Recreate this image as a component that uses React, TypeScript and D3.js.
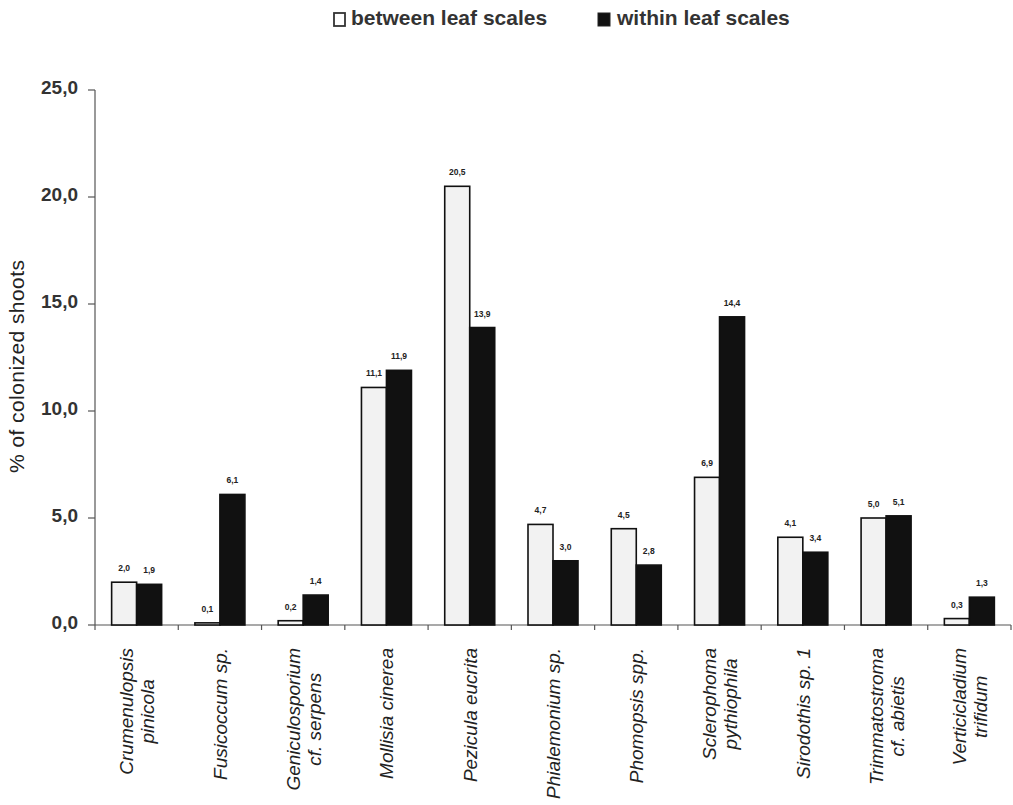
import * as d3 from "d3";

const categories = [
  ["Crumenulopsis", "pinicola"],
  ["Fusicoccum sp."],
  ["Geniculosporium", "cf. serpens"],
  ["Mollisia cinerea"],
  ["Pezicula eucrita"],
  ["Phialemonium sp."],
  ["Phomopsis spp."],
  ["Sclerophoma", "pythiophila"],
  ["Sirodothis sp. 1"],
  ["Trimmatostroma", "cf. abietis"],
  ["Verticicladium", "trifidum"],
];
const betweenValues = [2.0, 0.1, 0.2, 11.1, 20.5, 4.7, 4.5, 6.9, 4.1, 5.0, 0.3];
const withinValues = [1.9, 6.1, 1.4, 11.9, 13.9, 3.0, 2.8, 14.4, 3.4, 5.1, 1.3];
const yTicks = [0, 5, 10, 15, 20, 25];
const seriesNames = ["between leaf scales", "within leaf scales"];

const W = 1013;
const H = 805;
const FONT = "'Liberation Sans', Arial, sans-serif";

const fmt = (v: number) => d3.format(".1f")(v).replace(".", ",");

let ctx: CanvasRenderingContext2D | null = null;
const measure = (s: string, font: string) => {
  if (!ctx) ctx = document.createElement("canvas").getContext("2d");
  if (!ctx) return s.length * 9;
  ctx.font = font;
  return ctx.measureText(s).width;
};

const App = () => {
  const x0 = d3
    .scaleBand<number>()
    .domain(d3.range(categories.length))
    .range([95, 1011]);
  const x1 = d3.scaleBand<number>().domain([0, 1]).range([0, 50]);
  const y = d3.scaleLinear().domain([0, 25]).range([625, 90]);
  const barOffset = (x0.bandwidth() - 50) / 2;
  const series = [betweenValues, withinValues];
  const catFont = `italic 19px ${FONT}`;

  return (
    <svg
      width={W}
      height={H}
      viewBox={`0 0 ${W} ${H}`}
      style={{ position: "absolute", left: 0, top: 0, background: "#fff" }}
      fontFamily={FONT}
    >
      {/* legend */}
      <g>
        <rect x={334} y={13} width={11} height={13} fill="#fff" stroke="#333" strokeWidth={1.8} />
        <text x={351} y={25} fontSize={21} fontWeight="bold" fill="#333">
          {seriesNames[0]}
        </text>
        <rect x={598} y={13} width={12} height={13} fill="#111" stroke="#222" />
        <text x={617} y={25} fontSize={21} fontWeight="bold" fill="#333">
          {seriesNames[1]}
        </text>
      </g>

      {/* y axis */}
      <line x1={95} x2={95} y1={y(25)} y2={y(0)} stroke="#555" strokeWidth={1.2} />
      {yTicks.map((t) => (
        <g key={t}>
          <line x1={88} x2={95} y1={y(t)} y2={y(t)} stroke="#555" strokeWidth={1.2} />
          <text x={78} y={y(t) + 4} fontSize={19} fontWeight="bold" textAnchor="end" fill="#333">
            {fmt(t)}
          </text>
        </g>
      ))}
      <text
        transform={`translate(24,${y(12.5) + 9}) rotate(-90)`}
        textAnchor="middle"
        fontSize={21}
        fill="#222"
        textLength={213}
      >
        % of colonized shoots
      </text>

      {/* x axis */}
      <line x1={95} x2={1011} y1={y(0)} y2={y(0)} stroke="#555" strokeWidth={1.2} />
      {d3.range(categories.length + 1).map((i) => {
        const xx = 95 + i * x0.step();
        return <line key={i} x1={xx} x2={xx} y1={y(0)} y2={y(0) + 5} stroke="#555" strokeWidth={1.2} />;
      })}

      {/* bars */}
      {categories.map((_, i) =>
        series.map((vals, s) => {
          const bx = (x0(i) ?? 0) + barOffset + (x1(s) ?? 0);
          const bw = x1.bandwidth();
          const v = vals[i];
          return (
            <g key={`${i}-${s}`}>
              <rect
                x={bx}
                y={y(v)}
                width={bw}
                height={y(0) - y(v)}
                fill={s === 0 ? "#f2f2f2" : "#111"}
                stroke="#111"
                strokeWidth={1.6}
              />
              <text
                x={bx + bw / 2}
                y={y(v) - 11}
                fontSize={8.5}
                fontWeight="bold"
                textAnchor="middle"
                fill="#222"
              >
                {fmt(v)}
              </text>
            </g>
          );
        })
      )}

      {/* category labels */}
      {categories.map((lines, i) => {
        const cx = (x0(i) ?? 0) + x0.bandwidth() / 2;
        const maxLen = d3.max(lines, (l) => measure(l, catFont)) ?? 0;
        const cy = 648 + maxLen / 2;
        const spacing = 21;
        return lines.map((l, j) => {
          const lx = cx + (j - (lines.length - 1) / 2) * spacing + 7;
          return (
            <text
              key={`${i}-${j}`}
              transform={`translate(${lx},${cy}) rotate(-90)`}
              textAnchor="middle"
              fontSize={19}
              fontStyle="italic"
              fill="#222"
            >
              {l}
            </text>
          );
        });
      })}
    </svg>
  );
};

export default App;
